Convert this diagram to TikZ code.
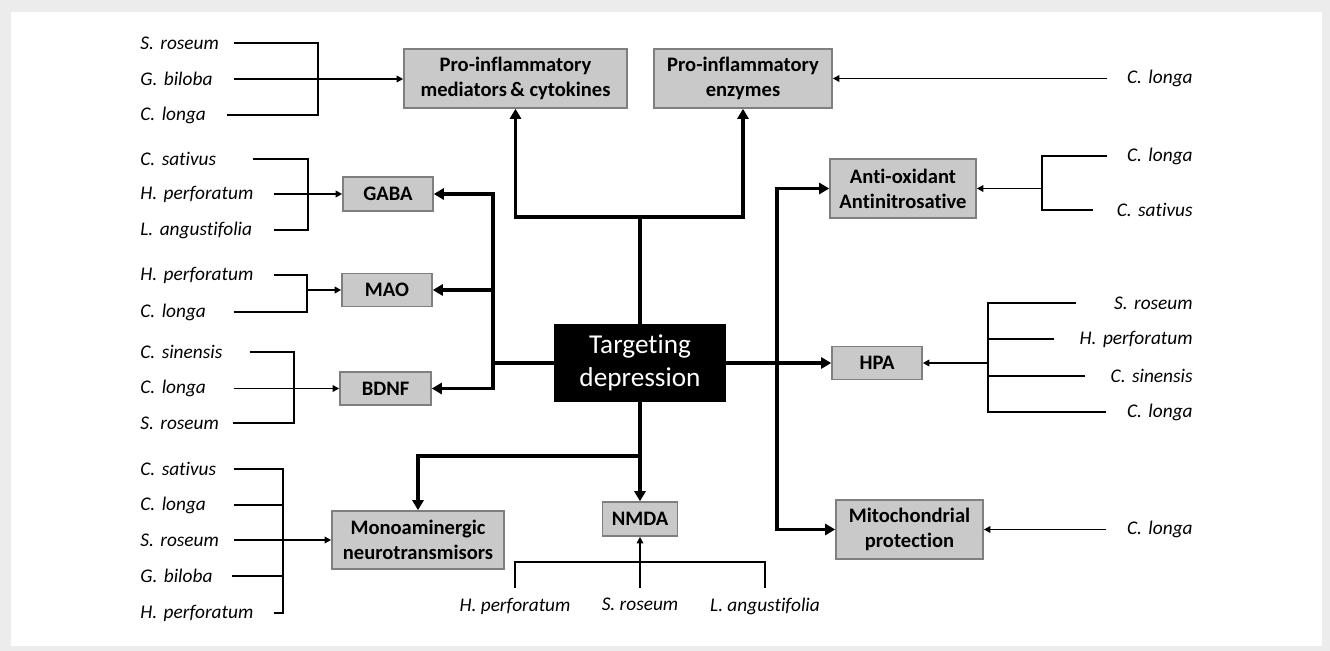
\documentclass[tikz,border=0pt]{standalone}
\usepackage{fontspec}
\setmainfont{Carlito}[Ligatures=NoCommon]
\usepackage{xcolor}
\definecolor{cBox}{HTML}{C9C9C9}
\definecolor{cEdge}{HTML}{7F7F7F}
\definecolor{cFrame}{HTML}{ECECEC}
\usetikzlibrary{arrows.meta,calc}
\tikzset{
  node-box/.style={draw=cEdge,line width=0.9pt,fill=cBox,align=center,
    inner sep=0pt,font=\fontsize{11.7}{14.2}\selectfont\bfseries},
  node-main/.style={fill=black,text=white,align=center,inner sep=0pt,
    font=\fontsize{15.5}{18.5}\selectfont},
  plant-left/.style={anchor=west,inner sep=0pt,align=left,
    font=\fontsize{11}{13}\selectfont\itshape},
  plant-right/.style={anchor=east,inner sep=0pt,align=right,
    font=\fontsize{11}{13}\selectfont\itshape},
  plant-below/.style={anchor=north,inner xsep=0pt,inner ysep=2mm,
    font=\fontsize{11}{13}\selectfont\itshape},
  link/.style={line width=1pt,draw=black},
  link-in/.style={link,-{Triangle[length=1.3mm,width=1.3mm]}},
  trunk/.style={line width=2pt,draw=black},
  trunk-out/.style={trunk,-{Triangle[length=2mm,width=2.2mm]}},
}

\begin{document}
\begin{tikzpicture}[x=0.2mm,y=-0.2mm]
  % frame
  \fill[cFrame] (0,0) rectangle (1330,651);
  \fill[white] (11,12) rectangle (1322,646);

  % targets
  \node[node-main,minimum width=34.4mm,minimum height=15.6mm] (dep) at (640,363) {Targeting\\depression};
  \node[node-box,minimum width=44.6mm,minimum height=11.8mm] (pim) at (515.5,78.5) {Pro-inflammatory\\mediators\,\& cytokines};
  \node[node-box,minimum width=35.6mm,minimum height=11.8mm] (pie) at (743,78.5) {Pro-inflammatory\\enzymes};
  \node[node-box,minimum width=18mm,minimum height=6.8mm] (gaba) at (388,194) {GABA};
  \node[node-box,minimum width=18mm,minimum height=6.6mm] (mao) at (387,290) {MAO};
  \node[node-box,minimum width=18.2mm,minimum height=6.6mm] (bdnf) at (385.5,388.5) {BDNF};
  \node[node-box,minimum width=34.4mm,minimum height=11.6mm] (mono) at (418,540) {Monoaminergic\\neurotransmisors};
  \node[node-box,minimum width=15mm,minimum height=6.8mm] (nmda) at (640,519) {NMDA};
  \node[node-box,minimum width=29.2mm,minimum height=11.8mm] (antiox) at (903,188.5) {Anti-oxidant\\Antinitrosative};
  \node[node-box,minimum width=18mm,minimum height=6.6mm] (hpa) at (877,363) {HPA};
  \node[node-box,minimum width=29.4mm,minimum height=11.8mm] (mito) at (909.5,529.5) {Mitochondrial\\protection};

  % trunks from the centre
  \coordinate (t-up) at (640,217);
  \coordinate (t-left) at (493,363);
  \coordinate (t-right) at (777,363);
  \coordinate (t-down) at (640,456);
  \draw[trunk] (dep.north) -- (t-up);
  \draw[trunk-out] (t-up) -| (pim.south);
  \draw[trunk-out] (t-up) -| (pie.south);
  \draw[trunk] (dep.west) -- (t-left);
  \draw[trunk-out] (t-left) |- (gaba.east);
  \draw[trunk-out] (t-left) |- (mao.east);
  \draw[trunk-out] (t-left) |- (bdnf.east);
  \draw[trunk-out] (dep.east) -- (hpa.west);
  \draw[trunk-out] (t-right) |- (antiox.west);
  \draw[trunk-out] (t-right) |- (mito.west);
  \draw[trunk-out] (dep.south) -- (nmda.north);
  \draw[trunk-out] (t-down) -| (mono.north);

  % plants, left
  \node[plant-left,text width=18.6mm] (sr1) at (140,43) {S. roseum};
  \node[plant-left,text width=18.6mm] (gb1) at (140,79) {G. biloba};
  \node[plant-left,text width=17.2mm] (cl1) at (140,115) {C. longa};
  \coordinate (k-pim) at (318,79);
  \draw[link] (sr1.east) -| (k-pim);
  \draw[link] (cl1.east) -| (k-pim);
  \draw[link-in] (gb1.east) -- (gb1.east -| pim.west);

  \node[plant-left,text width=22.4mm] (cs2) at (140,159) {C. sativus};
  \node[plant-left,text width=26.6mm] (hp2) at (140,194) {H. perforatum};
  \node[plant-left,text width=26.6mm] (la2) at (140,230) {L. angustifolia};
  \coordinate (k-gaba) at (308,194);
  \draw[link] (cs2.east) -| (k-gaba);
  \draw[link] (la2.east) -| (k-gaba);
  \draw[link-in] (hp2.east) -- (hp2.east -| gaba.west);

  \node[plant-left,text width=26.6mm] (hp3) at (140,275) {H. perforatum};
  \node[plant-left,text width=18.6mm] (cl3) at (140,312) {C. longa};
  \coordinate (k-mao) at (307,290);
  \draw[link] (hp3.east) -| (k-mao);
  \draw[link] (cl3.east) -| (k-mao);
  \draw[link-in] (k-mao) -- (k-mao -| mao.west);

  \node[plant-left,text width=21.8mm] (cn4) at (140,352) {C. sinensis};
  \node[plant-left,text width=18.6mm] (cl4) at (140,388.5) {C. longa};
  \node[plant-left,text width=18.4mm] (sr4) at (140,423) {S. roseum};
  \coordinate (k-bdnf) at (294,388.5);
  \draw[link] (cn4.east) -| (k-bdnf);
  \draw[link] (sr4.east) -| (k-bdnf);
  \draw[link-in] (cl4.east) -- (cl4.east -| bdnf.west);

  \node[plant-left,text width=18.6mm] (cs5) at (140,469) {C. sativus};
  \node[plant-left,text width=18.6mm] (cl5) at (140,505) {C. longa};
  \node[plant-left,text width=18.6mm] (sr5) at (140,540) {S. roseum};
  \node[plant-left,text width=18.2mm] (gb5) at (140,576) {G. biloba};
  \node[plant-left,text width=26.6mm] (hp5) at (140,613) {H. perforatum};
  \coordinate (k-mono) at (283,540);
  \draw[link] (cs5.east) -| (k-mono);
  \draw[link] (hp5.east) -| (k-mono);
  \draw[link] (cl5.east) -- (cl5.east -| k-mono);
  \draw[link] (gb5.east) -- (gb5.east -| k-mono);
  \draw[link-in] (sr5.east) -- (sr5.east -| mono.west);

  % plants, right
  \node[plant-right,text width=17mm] (cl6) at (1193,78.5) {C. longa};
  \draw[link-in] (cl6.west) -- (cl6.west -| pie.east);

  \node[plant-right,text width=17mm] (cl7) at (1193,156) {C. longa};
  \node[plant-right,text width=19.8mm] (cs7) at (1193,210) {C. sativus};
  \coordinate (k-anti) at (1042,188.5);
  \draw[link] (cl7.west) -| (k-anti);
  \draw[link] (cs7.west) -| (k-anti);
  \draw[link-in] (k-anti) -- (k-anti -| antiox.east);

  \node[plant-right,text width=23.2mm] (sr8) at (1193,303) {S. roseum};
  \node[plant-right,text width=27.6mm] (hp8) at (1193,339) {H. perforatum};
  \node[plant-right,text width=21.4mm] (cn8) at (1193,376) {C. sinensis};
  \node[plant-right,text width=17.2mm] (cl8) at (1193,412) {C. longa};
  \coordinate (k-hpa) at (988,363);
  \draw[link] (sr8.west) -| (k-hpa);
  \draw[link] (cl8.west) -| (k-hpa);
  \draw[link] (hp8.west) -- (hp8.west -| k-hpa);
  \draw[link] (cn8.west) -- (cn8.west -| k-hpa);
  \draw[link-in] (k-hpa) -- (k-hpa -| hpa.east);

  \node[plant-right,text width=17.2mm] (cl9) at (1193,529.5) {C. longa};
  \draw[link-in] (cl9.west) -- (cl9.west -| mito.east);

  % plants, below
  \node[plant-below] (hp10) at (515,588) {H. perforatum};
  \node[plant-below] (sr10) at (640,588) {S. roseum};
  \node[plant-below] (la10) at (765,588) {L. angustifolia};
  \coordinate (k-nmda) at (640,562);
  \draw[link] (hp10.north) |- (k-nmda) -| (la10.north);
  \draw[link-in] (sr10.north) -- (nmda.south);
\end{tikzpicture}
\end{document}
